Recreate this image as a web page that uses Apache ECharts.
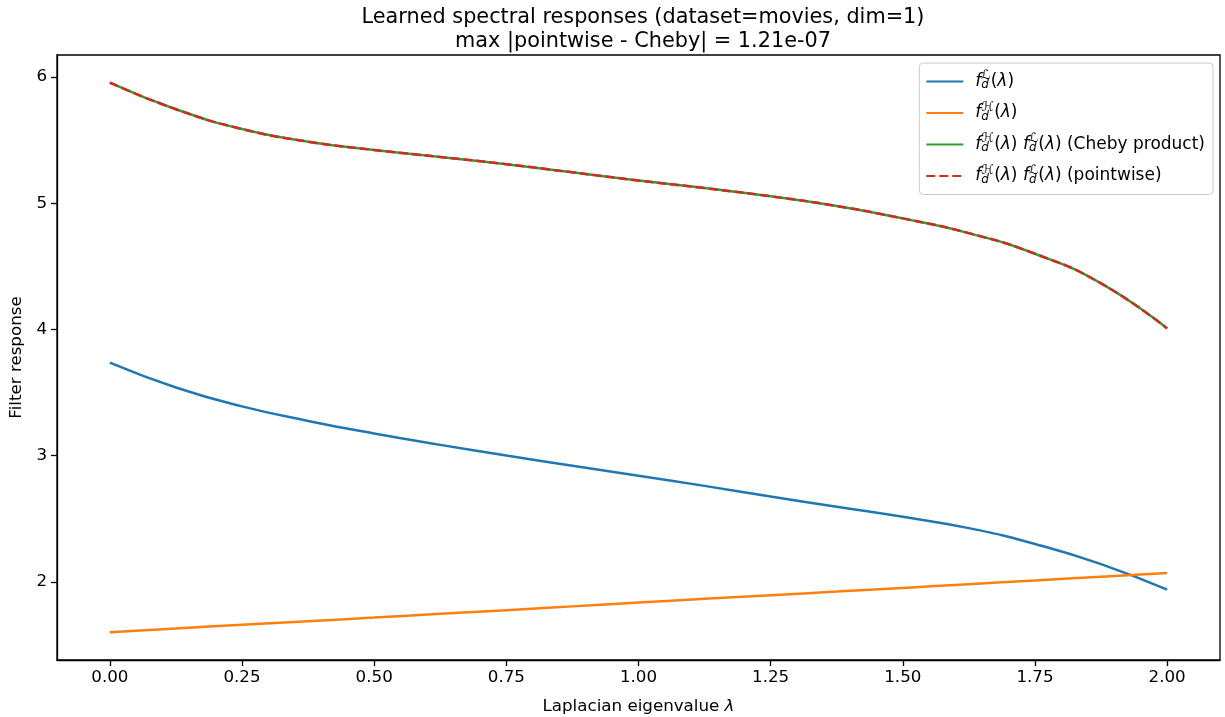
<!DOCTYPE html>
<html>
<head>
<meta charset="utf-8">
<script src="https://cdn.jsdelivr.net/npm/echarts@6/dist/echarts.min.js"></script>
<style>
  html, body { margin: 0; padding: 0; background: #fff; }
  #chart { width: 1225px; height: 717px; }
</style>
</head>
<body>
<div id="chart"></div>
<script>
// Eigenvalue grid on the normalized Laplacian spectrum [0, 2]
const lambdaGrid = [0, 0.125, 0.25, 0.375, 0.5, 0.625, 0.75, 0.875, 1.0,
                    1.125, 1.25, 1.375, 1.5, 1.625, 1.75, 1.875, 2.0];

// Low-pass filter response f_d^L(λ)
const lowPass = [3.737, 3.54, 3.39, 3.275, 3.175, 3.085, 3.0, 2.92, 2.84,
                 2.76, 2.675, 2.595, 2.515, 2.425, 2.30, 2.14, 1.937];

// High-pass filter response f_d^H(λ)
const highPass = [1.600, 1.630, 1.660, 1.688, 1.716, 1.746, 1.775, 1.805, 1.835,
                  1.865, 1.894, 1.922, 1.951, 1.981, 2.010, 2.040, 2.069];

// Product evaluated through the Chebyshev expansion
const chebyProduct = [5.956, 5.745, 5.588, 5.488, 5.422, 5.367, 5.31, 5.245, 5.18,
                      5.12, 5.055, 4.978, 4.88, 4.763, 4.60, 4.365, 4.008];

// Product evaluated pointwise
const pointwiseProduct = [5.956, 5.745, 5.588, 5.488, 5.422, 5.367, 5.31, 5.245, 5.18,
                          5.12, 5.055, 4.978, 4.88, 4.763, 4.60, 4.365, 4.008];

const xTicks = [0, 0.25, 0.5, 0.75, 1.0, 1.25, 1.5, 1.75, 2.0];
const yTicks = [2, 3, 4, 5, 6];

const FONT = 'DejaVu Sans';
const pairs = ys => lambdaGrid.map((x, i) => [x, ys[i]]);

// Rich-text pieces for the legend math: f with stacked sub/superscripts
const fL = '{f|f}{sb|d}{sp|ℒ}{rm|(}{it|λ}{rm|)}';
const fH = '{f|f}{sb|d}{sp|ℋ}{rm|(}{it|λ}{rm|)}';
const legendText = {
  'low': fL,
  'high': fH,
  'cheby': fH + '{rm| }' + fL + '{rm| (Cheby product)}',
  'pointwise': fH + '{rm| }' + fL + '{rm| (pointwise)}'
};

const LEG_FS = 17;
const chart = echarts.init(document.getElementById('chart'), null, { renderer: 'canvas' });

chart.setOption({
  animation: false,
  backgroundColor: '#ffffff',
  title: {
    text: 'Learned spectral responses (dataset=movies, dim=1)\nmax |pointwise - Cheby| = 1.21e-07',
    left: 638,
    top: 1,
    textAlign: 'center',
    textStyle: { fontFamily: FONT, fontSize: 20.8, fontWeight: 'normal', color: '#000', lineHeight: 24 }
  },
  grid: {
    left: 57, right: 5, top: 55, bottom: 57,
    containLabel: false,
    outerBoundsMode: 'none',
    show: true, borderColor: '#000', borderWidth: 1.3, backgroundColor: 'transparent'
  },
  legend: {
    orient: 'vertical',
    right: 12,
    top: 63,
    itemWidth: 37,
    itemHeight: 14,
    itemGap: 6.5,
    padding: [6, 8, 6, 6],
    backgroundColor: 'rgba(255,255,255,0.8)',
    borderColor: '#cccccc',
    borderWidth: 1,
    borderRadius: 4,
    itemStyle: { opacity: 0 },
    data: ['low', 'high', 'cheby', 'pointwise'],
    formatter: name => legendText[name],
    textStyle: {
      fontFamily: FONT, fontSize: LEG_FS, color: '#000', lineHeight: 25,
      padding: [0, 0, 0, 7],
      rich: {
        f: { fontFamily: FONT, fontSize: LEG_FS, fontStyle: 'italic', lineHeight: 25 },
        it: { fontFamily: FONT, fontSize: LEG_FS, fontStyle: 'italic', lineHeight: 25 },
        rm: { fontFamily: FONT, fontSize: LEG_FS, lineHeight: 25 },
        sb: { fontFamily: FONT, fontSize: 12, fontStyle: 'italic', width: 0.01, verticalAlign: 'bottom', height: 18, lineHeight: 25 },
        sp: { fontFamily: FONT, fontSize: 13, verticalAlign: 'top', height: 14, lineHeight: 25 }
      }
    }
  },
  xAxis: {
    type: 'value',
    min: -0.1,
    max: 2.1,
    name: '{rm|Laplacian eigenvalue }{it|λ}',
    nameLocation: 'middle',
    nameGap: 38,
    nameTextStyle: {
      fontFamily: FONT, fontSize: 16.7, color: '#000',
      rich: {
        rm: { fontFamily: FONT, fontSize: 16.7, color: '#000' },
        it: { fontFamily: FONT, fontSize: 16.7, fontStyle: 'italic', color: '#000' }
      }
    },
    axisLine: { show: true, onZero: false, lineStyle: { color: '#000', width: 1.3 } },
    axisTick: { show: true, customValues: xTicks, length: 6, lineStyle: { color: '#000', width: 1.3 } },
    axisLabel: {
      customValues: xTicks, margin: 9,
      fontFamily: FONT, fontSize: 16.7, color: '#000',
      formatter: v => v.toFixed(2)
    },
    splitLine: { show: false }
  },
  yAxis: {
    type: 'value',
    min: 1.38,
    max: 6.175,
    name: 'Filter response',
    nameLocation: 'middle',
    nameGap: 31,
    nameRotate: 90,
    nameTextStyle: { fontFamily: FONT, fontSize: 16.7, color: '#000' },
    axisLine: { show: true, onZero: false, lineStyle: { color: '#000', width: 1.3 } },
    axisTick: { show: true, customValues: yTicks, length: 6, lineStyle: { color: '#000', width: 1.3 } },
    axisLabel: {
      customValues: yTicks, margin: 10,
      fontFamily: FONT, fontSize: 16.7, color: '#000',
      formatter: v => String(Math.round(v))
    },
    splitLine: { show: false }
  },
  series: [
    {
      name: 'low', type: 'line', data: pairs(lowPass), smooth: true,
      symbol: 'none', color: '#1f77b4', lineStyle: { color: '#1f77b4', width: 2.5 }
    },
    {
      name: 'high', type: 'line', data: pairs(highPass), smooth: true,
      symbol: 'none', color: '#ff7f0e', lineStyle: { color: '#ff7f0e', width: 2.5 }
    },
    {
      name: 'cheby', type: 'line', data: pairs(chebyProduct), smooth: true,
      symbol: 'none', color: '#2ca02c', lineStyle: { color: '#2ca02c', width: 2.5 }
    },
    {
      name: 'pointwise', type: 'line', data: pairs(pointwiseProduct), smooth: true,
      symbol: 'none', color: '#d62728', lineStyle: { color: '#d62728', width: 2.5, type: [9, 4] }
    }
  ]
});
</script>
</body>
</html>
